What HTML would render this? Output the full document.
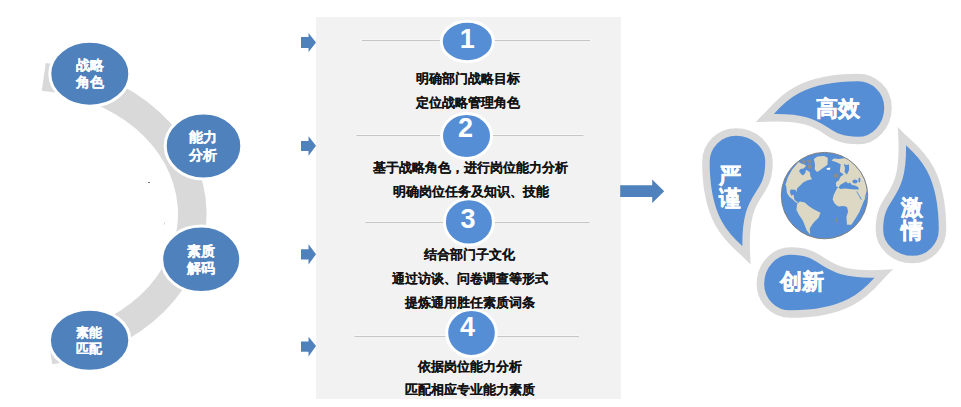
<!DOCTYPE html>
<html><head><meta charset="utf-8">
<style>
html,body{margin:0;padding:0;background:#fff;}
body{width:961px;height:407px;overflow:hidden;position:relative;font-family:"Liberation Sans",sans-serif;}
svg{position:absolute;left:0;top:0;}
.w{fill:#fff;font-weight:bold;font-family:"Liberation Sans",sans-serif;}
.ws{stroke:#fff;stroke-width:0.15px;}
.k{fill:#111;stroke:#111;stroke-width:0.05px;font-weight:bold;font-family:"Liberation Sans",sans-serif;font-size:13.2px;}
</style></head>
<body>
<svg width="961" height="407" viewBox="0 0 961 407">
<!-- left block arc -->
<path d="M45.75 63.09A182 152 0 0 1 52.2 364.3L50.2 350L49.8 344L62.98 333.96A154 124 0 0 0 41.75 90.83Z" fill="#d9d9d9"/>
<!-- left ellipses -->
<g fill="#4f81bd" stroke="#fff" stroke-width="3">
<ellipse cx="89.8" cy="73.8" rx="40" ry="32.5"/>
<ellipse cx="203.5" cy="146" rx="38.3" ry="33"/>
<ellipse cx="201.2" cy="259.3" rx="39.5" ry="33.3"/>
<ellipse cx="89.6" cy="340.2" rx="40.2" ry="31"/>
</g>
<g class="w ws" font-size="14" text-anchor="middle">
<text x="89.5" y="69.5">战略</text><text x="89.5" y="86.5">角色</text>
<text x="203" y="142">能力</text><text x="203" y="159.5">分析</text>
<text x="201" y="255.5">素质</text><text x="201" y="272.5">解码</text>
<text x="89.3" y="337" font-size="13">素能</text><text x="89.3" y="353.4" font-size="13">匹配</text>
</g>
<rect x="148" y="182" width="2" height="1" fill="#707070"/><rect x="164" y="222.5" width="1" height="2" fill="#d0d8d8"/>
<!-- panel -->
<rect x="316" y="17" width="305" height="382" fill="#f2f2f2"/>
<!-- arrows -->
<g fill="#4f81bd">
<path d="M301 37H308.5V33L316 42.5L308.5 52V48H301Z"/>
<path d="M301 141H308.5V136.3L316 145.8L308.5 155.7V151H301Z"/>
<path d="M301 249.3H308.5V244.3L316 254.2L308.5 264.5V259.6H301Z"/>
<path d="M301 341.5H308.5V336.8L316 346.1L308.5 356.6V351.7H301Z"/>
</g>
<!-- lines -->
<g stroke="#c6c6c6" stroke-width="1">
<line x1="362" y1="40.5" x2="590" y2="40.5"/>
<line x1="356.5" y1="135.5" x2="583.5" y2="135.5"/>
<line x1="365.5" y1="222.5" x2="589.5" y2="222.5"/>
<line x1="354.5" y1="336.5" x2="579" y2="336.5"/>
</g>
<g stroke="#f7f7f7" stroke-width="1">
<line x1="362" y1="39.5" x2="590" y2="39.5"/>
<line x1="356.5" y1="134.5" x2="583.5" y2="134.5"/>
<line x1="365.5" y1="221.5" x2="589.5" y2="221.5"/>
<line x1="354.5" y1="335.5" x2="579" y2="335.5"/>
</g>
<!-- number circles -->
<g fill="#558ed5" stroke="#fff" stroke-width="3">
<ellipse cx="467.3" cy="41.5" rx="26" ry="20.2"/>
<ellipse cx="466.5" cy="136" rx="25" ry="22.5"/>
<ellipse cx="468.9" cy="221.9" rx="24.5" ry="23.2"/>
<ellipse cx="471.5" cy="333" rx="24.8" ry="23.5"/>
</g>
<g class="w" font-size="27" text-anchor="middle">
<text x="467.3" y="48">1</text>
<text x="465.4" y="137.2">2</text>
<text x="468" y="228.1">3</text>
<text x="467.5" y="336.1">4</text>
</g>
<!-- panel texts -->
<g class="k" text-anchor="middle">
<text x="467.5" y="83.2">明确部门战略目标</text>
<text x="467.5" y="106.9">定位战略管理角色</text>
<text x="470.3" y="172.2">基于战略角色，进行岗位能力分析</text>
<text x="471" y="195.7">明确岗位任务及知识、技能</text>
<text x="469.2" y="259.2">结合部门子文化</text>
<text x="469.5" y="283.4">通过访谈、问卷调查等形式</text>
<text x="469.6" y="307.2">提炼通用胜任素质词条</text>
<text x="469.8" y="370.5">依据岗位能力分析</text>
<text x="469.6" y="394.2">匹配相应专业能力素质</text>
</g>
<!-- big arrow -->
<path d="M620.2 185.2H652.2V179.4L664.2 191.2L652.2 203V196.9H620.2Z" fill="#4f81bd"/>
<!-- teardrops -->
<g fill="#558ed5" stroke="#d9d9d9" stroke-width="7.5" stroke-linejoin="miter">
<path d="M765 118C777.9 105.1 792.9 77.5 858 77.5C874.6 77.5 888 90.9 888 107.5C888 125.8 874.6 140.6 858 140.6C818.5 140.6 832.4 114.5 765 118Z"/>
<path d="M765 118C777.9 105.1 792.9 77.5 858 77.5C874.6 77.5 888 90.9 888 107.5C888 125.8 874.6 140.6 858 140.6C818.5 140.6 832.4 114.5 765 118Z" transform="rotate(90 824.2 195.8)"/>
<path d="M765 118C777.9 105.1 792.9 77.5 858 77.5C874.6 77.5 888 90.9 888 107.5C888 125.8 874.6 140.6 858 140.6C818.5 140.6 832.4 114.5 765 118Z" transform="rotate(180 824.2 195.8)"/>
<path d="M765 118C777.9 105.1 792.9 77.5 858 77.5C874.6 77.5 888 90.9 888 107.5C888 125.8 874.6 140.6 858 140.6C818.5 140.6 832.4 114.5 765 118Z" transform="rotate(270 824.2 195.8)"/>
</g>
<!-- globe -->
<defs><clipPath id="gc"><circle cx="824.5" cy="195.6" r="43"/></clipPath></defs>
<circle cx="824.5" cy="195.6" r="43.2" fill="#558ed5"/>
<g clip-path="url(#gc)">
<g fill="#ddd8c4">
<path d="M785.4 185L788 177L792 169.7L795.5 165.5L798.7 162L801.6 163.8L804.6 164.6L806 166L803.5 168.5L800.5 169L799 171L801 174L803 175.6L805.3 173L806 169.7L809.7 172L810.5 176.4L812 179.3L807.5 180.2L803.1 182.4L800.2 185.4L797.2 188.3L796.5 192L796.8 192.6L795.4 189.8L790.6 189.4L789.8 192L791.3 195.7L793.5 194.6L793.9 196.4L794.3 199.4L796.5 201.6L798 202.3L797.2 203L795.7 202.3L792.8 199.4L789.1 196.4L786.9 192.7L786.2 186Z"/>
<path d="M796.9 203.9L799.9 201.4L804.8 202.4L808.7 205.9L813.6 209.3L820.5 212.7L818.6 217.7L814.6 221.6L812.2 224.5L809.7 228.5L810.2 234.4L806.8 230.4L804.8 225.5L802.8 220.6L798.9 214.7L796.4 209.8L796.9 205.9Z"/>
<path d="M813.8 159L817.6 156.4L824 156.1L827.8 157.7L827.5 164.7L824 167.3L819.5 170.5L817 172.1L814.7 169.2L815 164.7L814.4 161.5Z"/>
<path d="M831.4 160.4L833.9 158.4L838.8 158.9L845.7 157.9L850 150L880 150L880 195L868 197L865.8 197.2L863.6 201.6L861.4 207.1L859.1 212.6L855.8 218.1L851.4 224.8L847 224.8L846.4 217L848.1 211.5L847 207.1L843.7 206L838.2 206.5L834.8 203.8L832.6 199.4L833.7 195L837 188.3L838.8 187.4L836.3 186.4L835.8 183.5L836.8 181.5L838.8 180.5L840.7 176.6L843.7 174.6L841.7 173.1L839.8 171.7L840.3 167.7L840.7 164.3L836 162Z"/>
</g>
<g fill="#558ed5">
<path d="M838.8 187.6L840 185L843 183.2L846 181.5L848 183.5L850 182.5L852 185L855 185.5L858 187L859 189.6L852 189.2L845 188.4L840 188.9Z"/>
<path d="M843.7 163.8L846 165L849 164.5L849.1 170L847 174.6L844.5 172L845 168Z"/>
<ellipse cx="855" cy="181.5" rx="2.6" ry="2"/>
<ellipse cx="859.4" cy="180" rx="1" ry="2.5"/>
<path d="M857 191.2L861.8 199.2L861 199.8L856.3 191.6Z"/>
<path d="M866 185L869 190L866.5 197L864.5 198.5L867 190Z"/>
</g>
<g fill="#8c8c8c">
<path d="M801 161L804 160L806 162.5L803.5 164Z"/>
<path d="M806.5 160.5L810 159.5L812 162L809 163.5Z"/>
<path d="M807 165L810.5 164L812 168L808.5 169Z"/>
<path d="M834 174L837 173.1L838.8 176L836.5 178.1L833.4 177Z"/>
<path d="M835 217L836.5 217.5L838 223.5L837 223.7Z"/>
</g>
<path d="M826.5 168.3L830.4 167.6L830 169.8L827 169.8Z" fill="#fff"/>
</g>
<circle cx="824.5" cy="195.6" r="43.2" fill="none" stroke="#808080" stroke-width="1"/>
<!-- teardrop texts -->
<g class="w ws" font-size="22" text-anchor="middle" style="stroke-width:0.5px">
<text x="838" y="116">高效</text>
<text x="730.4" y="182.6">严</text><text x="730.4" y="205.6">谨</text>
<text x="912" y="215.2">激</text><text x="912" y="238.2">情</text>
<text x="801.5" y="288.8">创新</text>
</g>
</svg>
</body></html>
